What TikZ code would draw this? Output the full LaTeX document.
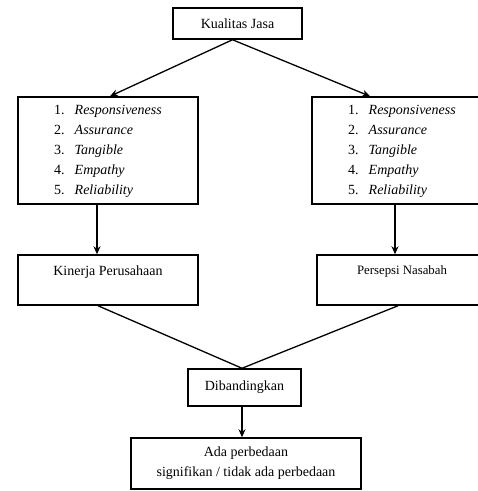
\documentclass[tikz,border=0pt]{standalone}
\usepackage{fontspec}
\setmainfont{Liberation Serif}
\usetikzlibrary{arrows.meta}
\begin{document}
\begin{tikzpicture}[
        x=1pt, y=-1pt,
        box/.style = {rectangle, draw=black, line width=1.5pt, align=center, inner sep=0pt, font=\fontsize{14}{20}\selectfont},
        listbox/.style = {box, minimum width=180pt, minimum height=107pt},
        line/.style = {line width=1.3pt},
        arrow/.style = {line, -{Stealth[length=8pt, width=7pt]}}
    ]
    \useasboundingbox (0,0) rectangle (478,491);

    % ================= ATAS: KUALITAS JASA =================
    \node[box, minimum width=129pt, minimum height=31pt] (jasa) at (237.5,23.5) {Kualitas Jasa};

    \node[listbox] (listL) at (108,150.5) {%
        \begin{tabular}{@{}r@{\hspace{10pt}}l@{}}
        1. & \textit{Responsiveness}\\
        2. & \textit{Assurance}\\
        3. & \textit{Tangible}\\
        4. & \textit{Empathy}\\
        5. & \textit{Reliability}
        \end{tabular}};
    \node[listbox] (listR) at (402,150.5) {%
        \begin{tabular}{@{}r@{\hspace{10pt}}l@{}}
        1. & \textit{Responsiveness}\\
        2. & \textit{Assurance}\\
        3. & \textit{Tangible}\\
        4. & \textit{Empathy}\\
        5. & \textit{Reliability}
        \end{tabular}};

    \draw[arrow] ([xshift=-5pt]jasa.south) -- ([xshift=2pt]listL.north);
    \draw[arrow] ([xshift=-5pt]jasa.south) -- ([xshift=-32pt]listR.north);

    % ================= TENGAH: KINERJA / PERSEPSI =================
    \node[box, minimum width=180pt, minimum height=50pt, text depth=19pt] (kinerja) at (108,280) {Kinerja Perusahaan};
    \node[box, minimum width=170pt, minimum height=50pt, text depth=19pt,
          font=\fontsize{12.8}{18}\selectfont] (persepsi) at (402,280) {Persepsi Nasabah};

    \draw[arrow] ([xshift=-11pt]listL.south) -- ([xshift=-11pt]kinerja.north);
    \draw[arrow] ([xshift=-7pt]listR.south) -- ([xshift=-7pt]persepsi.north);

    % ================= BAWAH: PERBANDINGAN =================
    \node[box, minimum width=113pt, minimum height=37pt] (banding) at (244.5,387.5) {Dibandingkan};
    \node[box, minimum width=230pt, minimum height=51pt] (hasil) at (246,463.5) {Ada perbedaan\\ signifikan / tidak ada perbedaan};

    \draw[line] ([xshift=-10pt]kinerja.south) -- ([xshift=-2.5pt]banding.north);
    \draw[line] ([xshift=-4pt]persepsi.south) -- ([xshift=-2.5pt]banding.north);
    \draw[arrow] ([xshift=-2.5pt]banding.south) -- ([xshift=-4pt]hasil.north);

\end{tikzpicture}
\end{document}
